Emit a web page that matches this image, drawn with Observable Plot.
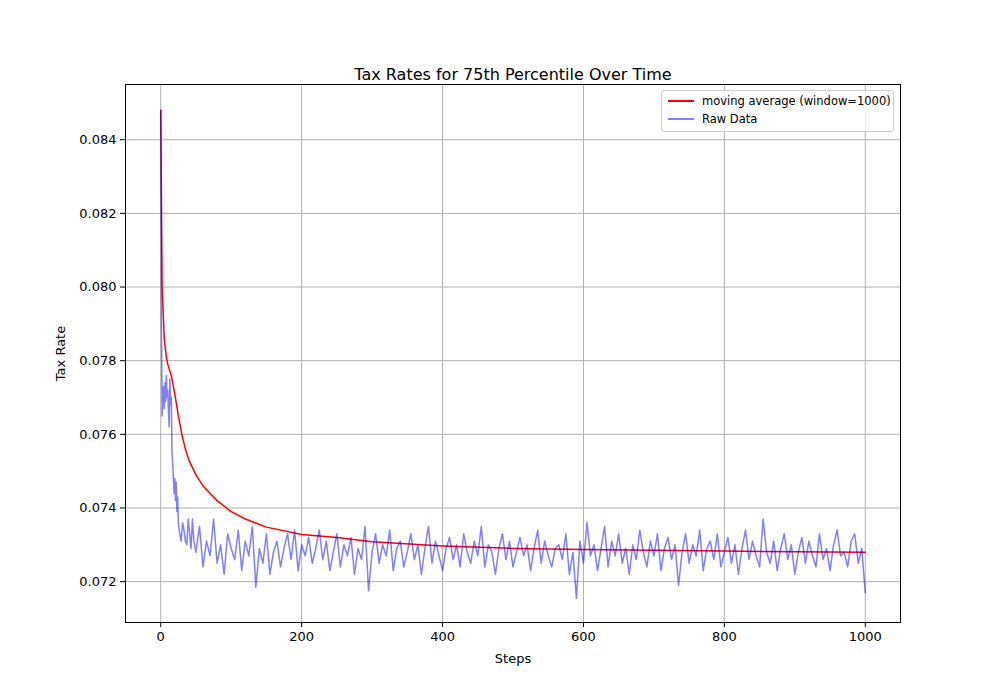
<!DOCTYPE html>
<html><head><meta charset="utf-8">
<script src="https://cdn.jsdelivr.net/npm/d3@7"></script>
<script src="https://cdn.jsdelivr.net/npm/@observablehq/plot@0.6"></script>
<style>
body{margin:0;background:#fff;font-family:"DejaVu Sans",sans-serif;}
#wrap{position:relative;width:1000px;height:700px;}
#legend{position:absolute;left:661px;top:90px;width:231px;height:40px;border:1px solid #ccc;border-radius:3px;background:rgba(255,255,255,0.8);font-size:11.5px;}
.row{position:absolute;left:6px;display:flex;align-items:center;}
.sw{width:26px;height:0;border-top:2px solid;margin-right:8px;}
</style></head>
<body><div id="wrap"><div id="chart"></div>
<div id="legend">
<div class="row" style="top:3px"><span class="sw" style="border-color:red"></span>moving average (window=1000)</div>
<div class="row" style="top:21px"><span class="sw" style="border-color:rgba(0,0,255,0.5)"></span>Raw Data</div>
</div></div>
<script>
const maSteps = [0,2,5,8,10,15,20,25,30,35,40,50,60,70,80,90,100,120,150,200,250,300,400,500,600,700,800,900,1000];
const maValues = [0.0848,0.0800,0.0786,0.0781,0.0779,0.0776,0.0771,0.0765,0.0760,0.0756,0.0753,0.0749,0.0746,0.0744,0.0742,0.07405,0.0739,0.0737,0.07348,0.07328,0.0732,0.07308,0.07297,0.0729,0.07287,0.07285,0.07283,0.07281,0.0728];

const rawHeadSteps = [0,1,2,3,4,5,6,7,8,9,10,11,12,13,14,15,16,17,18,19,20,21,22,23,24,25,27,29,31,33,35,37,39,41,43,45,47];
const rawHeadValues = [0.0848,0.0790,0.0765,0.0770,0.0773,0.0767,0.0774,0.0769,0.0776,0.0770,0.0772,0.0766,0.0762,0.0775,0.0768,0.0770,0.0755,0.0752,0.0748,0.0744,0.0748,0.0742,0.0747,0.0739,0.0743,0.0736,0.0733,0.0731,0.0736,0.0734,0.0731,0.0730,0.0737,0.0733,0.0729,0.0737,0.0731];
const rawTailValues = [
0.0728,0.0735,0.0724,0.0731,0.0727,0.0737,0.0725,0.0730,0.0722,0.0733,
0.0729,0.0726,0.0734,0.0723,0.0731,0.0727,0.0735,0.07185,0.0729,0.0725,
0.0733,0.0722,0.0728,0.0731,0.0724,0.0729,0.0733,0.0726,0.0734,0.0723,
0.0730,0.0727,0.0732,0.0725,0.0729,0.0734,0.0726,0.0731,0.0723,0.0728,
0.0733,0.0724,0.0730,0.0727,0.0732,0.0722,0.0729,0.0726,0.0735,0.07175,
0.0728,0.0733,0.0725,0.0730,0.0727,0.0734,0.0723,0.0729,0.0731,0.0724,
0.0728,0.0733,0.0726,0.0730,0.0722,0.0729,0.0735,0.0725,0.0731,0.0727,
0.0723,0.0729,0.0732,0.0726,0.0730,0.0724,0.0733,0.0728,0.0725,0.0731,
0.0727,0.0735,0.0724,0.0730,0.0728,0.0722,0.0729,0.0733,0.0726,0.0731,
0.0724,0.0728,0.0732,0.0727,0.0730,0.0723,0.0729,0.0734,0.0725,0.0731,
0.0727,0.0724,0.0729,0.0730,0.0726,0.0733,0.0722,0.0728,0.07155,0.0731,
0.0725,0.0736,0.0727,0.0730,0.0723,0.0729,0.0735,0.0724,0.0731,0.0727,
0.0733,0.0725,0.0729,0.0722,0.0730,0.0726,0.0734,0.0728,0.0724,0.0731,
0.0727,0.0733,0.0723,0.0729,0.0732,0.0726,0.0730,0.0719,0.0728,0.0733,
0.0725,0.0730,0.0727,0.0734,0.0723,0.0729,0.0731,0.0726,0.0733,0.0724,
0.0728,0.0732,0.0725,0.0730,0.0722,0.0729,0.0734,0.0726,0.0731,0.0727,
0.0724,0.0737,0.0728,0.0725,0.0731,0.0723,0.0729,0.0733,0.0726,0.0730,
0.0722,0.0728,0.0732,0.0725,0.0731,0.0727,0.0724,0.0733,0.0726,0.0729,
0.0723,0.0730,0.0734,0.0727,0.0728,0.0724,0.0731,0.0733,0.0725,0.0729,
0.0717];
const rawTailSteps = rawTailValues.map((_, i) => i === rawTailValues.length - 1 ? 1000 : 50 + i * 5);

const ma = maSteps.map((s, i) => ({step: s, v: maValues[i]}));
const raw = rawHeadSteps.concat(rawTailSteps).map((s, i) => ({step: s, v: rawHeadValues.concat(rawTailValues)[i]}));

const chart = Plot.plot({
  width: 1000, height: 700,
  marginLeft: 125, marginRight: 100, marginTop: 84, marginBottom: 78,
  style: {fontFamily: "DejaVu Sans", fontSize: "13px"},
  x: {domain: [-50, 1050], ticks: [0,200,400,600,800,1000], tickFormat: d => String(d), tickSize: 5, label: "Steps", labelAnchor: "center", labelArrow: "none", labelOffset: 40},
  y: {domain: [0.07089, 0.0855], ticks: [0.072,0.074,0.076,0.078,0.080,0.082,0.084], tickFormat: d3.format(".3f"), tickSize: 5, label: "Tax Rate", labelAnchor: "center", labelArrow: "none", labelOffset: 70},
  marks: [
    Plot.gridX([0,200,400,600,800,1000], {stroke: "#b0b0b0", strokeOpacity: 1}),
    Plot.gridY([0.072,0.074,0.076,0.078,0.080,0.082,0.084], {stroke: "#b0b0b0", strokeOpacity: 1}),
    Plot.line(ma, {x: "step", y: "v", stroke: "red", strokeWidth: 1.5}),
    Plot.line(raw, {x: "step", y: "v", stroke: "blue", strokeOpacity: 0.5, strokeWidth: 1.5}),
    Plot.frame({stroke: "black"}),
    Plot.text(["Tax Rates for 75th Percentile Over Time"], {frameAnchor: "top", dy: -16, fontSize: 16, fill: "black"})
  ]
});
document.getElementById("chart").append(chart);
</script></body></html>
